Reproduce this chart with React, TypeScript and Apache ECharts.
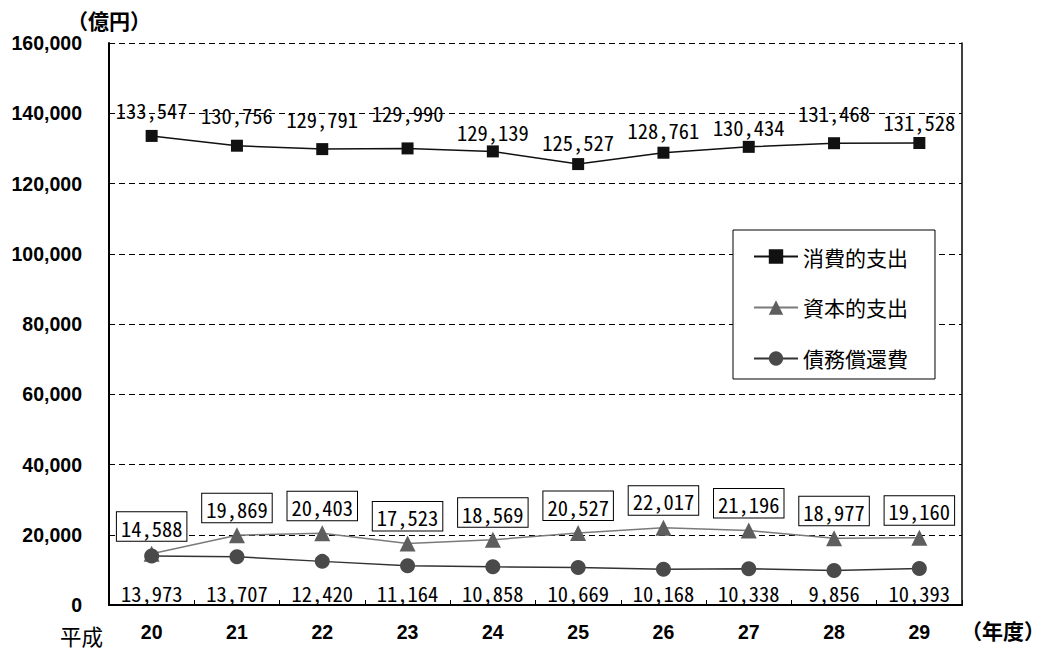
import React, { useEffect, useRef } from 'react';
import * as echarts from 'echarts';

const categories = ['20', '21', '22', '23', '24', '25', '26', '27', '28', '29'];
const seriesNames = ['消費的支出', '資本的支出', '債務償還費'];
const consumption = [133547, 130756, 129791, 129990, 129139, 125527, 128761, 130434, 131468, 131528];
const capital = [14588, 19869, 20403, 17523, 18569, 20527, 22017, 21196, 18977, 19160];
const debt = [13973, 13707, 12420, 11164, 10858, 10669, 10168, 10338, 9856, 10393];
const yMin = 0;
const yMax = 160000;
const yInterval = 20000;
// extra lift (px) of each 消費的支出 label, as placed in the original
const consumptionLabelRaise = [7, 11, 11, 16, 0, 3, 3, 1, 11, 2];

const fmt = (v: number) => v.toLocaleString('en-US');
const MONO = "'Noto Sans Mono CJK JP', 'DejaVu Sans Mono', monospace";
const CJK = "'Noto Sans CJK JP', sans-serif";
const BOLDNUM = "'Liberation Sans', Arial, sans-serif";

export default function App() {
  const ref = useRef<HTMLDivElement>(null);
  useEffect(() => {
    document.body.style.margin = '0';
    const chart = echarts.init(ref.current!, null, { renderer: 'svg' });
    const labelFont = { fontFamily: MONO, fontSize: 20.5, color: '#000' };
    const option: any = {
      animation: false,
      backgroundColor: '#fff',
      grid: { left: 109, right: 98, top: 43, bottom: 46 },
      legend: {
        orient: 'vertical',
        left: 733,
        top: 230,
        data: seriesNames,
        backgroundColor: '#fff',
        borderColor: '#000',
        borderWidth: 1,
        borderRadius: 0,
        padding: [16, 27, 10, 20],
        itemWidth: 44,
        itemHeight: 18,
        itemGap: 30,
        textStyle: { fontFamily: CJK, fontSize: 21, lineHeight: 20, color: '#000' },
      },
      xAxis: {
        type: 'category',
        data: categories,
        boundaryGap: true,
        axisLine: { lineStyle: { color: '#000', width: 2 } },
        axisTick: { show: true, inside: true, length: 5, interval: 0, lineStyle: { color: '#000' } },
        axisLabel: { margin: 17, fontFamily: BOLDNUM, fontWeight: 'bold', fontSize: 19.5, color: '#000', interval: 0 },
      },
      yAxis: [
        {
          type: 'value',
          min: yMin,
          max: yMax,
          interval: yInterval,
          axisLine: { show: true, lineStyle: { color: '#000', width: 2 } },
          axisTick: { show: false },
          axisLabel: { margin: 27, fontFamily: BOLDNUM, fontWeight: 'bold', fontSize: 19.5, color: '#000', formatter: (v: number) => fmt(v) },
          splitLine: { show: true, lineStyle: { color: '#000', width: 1, type: [6, 4] } },
        },
        {
          type: 'value',
          position: 'right',
          min: yMin,
          max: yMax,
          interval: yInterval,
          axisLine: { show: true, lineStyle: { color: '#000', width: 1.5 } },
          axisTick: { show: false },
          axisLabel: { show: false },
          splitLine: { show: false },
        },
      ],
      series: [
        {
          name: seriesNames[0],
          type: 'line',
          data: consumption.map((v, i) => ({ value: v, label: { offset: [0, -consumptionLabelRaise[i]] } })),
          symbol: 'rect',
          symbolSize: 12,
          itemStyle: { color: '#111' },
          lineStyle: { color: '#111', width: 1.5 },
          label: { show: true, position: 'top', distance: 3, formatter: (p: any) => fmt(p.value), ...labelFont },
          z: 3,
        },
        {
          name: seriesNames[1],
          type: 'line',
          data: capital,
          symbol: 'triangle',
          symbolSize: 16,
          itemStyle: { color: '#5e5e5e' },
          lineStyle: { color: '#7a7a7a', width: 1.5 },
          label: {
            show: true,
            position: 'top',
            distance: 5,
            formatter: (p: any) => fmt(p.value),
            ...labelFont,
            backgroundColor: '#fff',
            borderColor: '#000',
            borderWidth: 1,
            padding: [5, 4, 3, 4],
          },
          z: 4,
        },
        {
          name: seriesNames[2],
          type: 'line',
          data: debt,
          symbol: 'circle',
          symbolSize: 15,
          itemStyle: { color: '#4a4a4a' },
          lineStyle: { color: '#333', width: 1.5 },
          label: { show: true, position: 'bottom', distance: 10, formatter: (p: any) => fmt(p.value), ...labelFont },
          z: 5,
        },
      ],
      graphic: [
        { type: 'text', left: 67, top: 9, style: { text: '（億円）', fontFamily: CJK, fontWeight: 'bold', fontSize: 21, fill: '#000' } },
        { type: 'text', left: 60, top: 624, style: { text: '平成', fontFamily: CJK, fontSize: 21.5, lineHeight: 22, fill: '#000' } },
        { type: 'text', left: 961, top: 619, style: { text: '（年度）', fontFamily: CJK, fontWeight: 'bold', fontSize: 21, fill: '#000' } },
      ],
    };
    chart.setOption(option);
    // place 債務償還費 labels on a common baseline just above the x axis, as in the original
    const debtData = debt.map((v, i) => {
      const py = (chart.convertToPixel({ xAxisIndex: 0, yAxisIndex: 0 }, [i, v]) as number[])[1];
      const zeroY = (chart.convertToPixel({ xAxisIndex: 0, yAxisIndex: 0 }, [i, 0]) as number[])[1];
      const targetCenter = zeroY - 11;
      const distance = Math.max(2, targetCenter - 11 - (py + 7.5));
      return { value: v, label: { distance } };
    });
    chart.setOption({ series: [{}, {}, { data: debtData }] });
    return () => chart.dispose();
  }, []);
  return <div ref={ref} style={{ width: 1060, height: 651 }} />;
}
